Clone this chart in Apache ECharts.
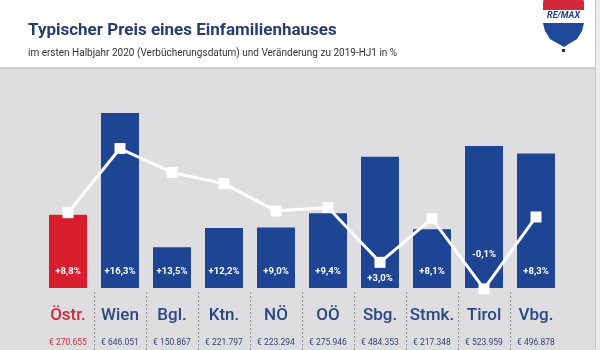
<!DOCTYPE html>
<html><head><meta charset="utf-8">
<script src="https://cdn.jsdelivr.net/npm/echarts@6/dist/echarts.min.js"></script>
<style>html,body{margin:0;padding:0;background:#dedee0}#c{width:600px;height:350px}</style>
</head><body><div id="c"></div>
<script>
var categories = ['Östr.','Wien','Bgl.','Ktn.','NÖ','OÖ','Sbg.','Stmk.','Tirol','Vbg.'];
var prices = [270655, 646051, 150867, 221797, 223294, 275946, 484353, 217348, 523959, 496878];
var priceLabels = ['€ 270.655','€ 646.051','€ 150.867','€ 221.797','€ 223.294','€ 275.946','€ 484.353','€ 217.348','€ 523.959','€ 496.878'];
var changes = [8.8, 16.3, 13.5, 12.2, 9.0, 9.4, 3.0, 8.1, -0.1, 8.3];
var changeLabels = ['+8,8%','+16,3%','+13,5%','+12,2%','+9,0%','+9,4%','+3,0%','+8,1%','-0,1%','+8,3%'];
var labelLift = [11,11,11,11,11,11,4,11,28,11];

var BLUE = '#1e4593', RED = '#d81e2c', NAVY = '#263d70';

var chart = echarts.init(document.getElementById('c'), null, {renderer:'canvas'});
var barData = prices.map(function(v,i){
  return {value:v,
    itemStyle:{color: i===0 ? RED : BLUE},
    label:{distance: labelLift[i]}};
});
chart.setOption({
  backgroundColor:'#dedee0',
  animation:false,
  title:{
    text:'Typischer Preis eines Einfamilienhauses',
    subtext:'im ersten Halbjahr 2020 (Verbücherungsdatum) und Veränderung zu 2019-HJ1 in %',
    left:23, top:17, itemGap:9,
    textStyle:{fontFamily:'Roboto',fontWeight:'bold',fontSize:17,color:NAVY},
    subtextStyle:{fontFamily:'Roboto',fontSize:10,color:'#333'}
  },
  graphic:[
    {type:'rect', z:-10, shape:{x:0,y:0,width:600,height:67}, style:{fill:'#ffffff'}},
    {type:'rect', z:-10, shape:{x:0,y:67,width:600,height:2}, style:{fill:'#cfcfd2'}},
    {type:'rect', z:-10, shape:{x:595,y:0,width:1,height:350}, style:{fill:'#c6c6c9'}},
    {type:'rect', z:-10, shape:{x:596,y:0,width:4,height:350}, style:{fill:'#ececee'}},
    {type:'rect', shape:{x:543,y:-6,width:41,height:16,r:[9,9,0,0]}, style:{fill:'#d0273a'}},
    {type:'rect', shape:{x:543,y:10,width:41,height:12}, style:{fill:'#ffffff'}},
    {type:'text', style:{text:'RE/MAX', x:563.5, y:16, align:'center', verticalAlign:'middle', font:'italic bold 9px Roboto', fill:'#1e3f8a'}},
    {type:'polygon', shape:{points:[[543,23],[584,23],[582,31],[577,39],[564,47],[550,39],[545,31]]}, style:{fill:'#1f4a9a'}},
    {type:'rect', shape:{x:562,y:49,width:3,height:3}, style:{fill:'#1f2f55'}}
  ],
  grid:[
    {left:42, right:38, top:113, bottom:62},
    {left:42, right:38, top:292, bottom:0}
  ],
  xAxis:[
    {type:'category', data:categories, gridIndex:0,
     axisLine:{show:false}, axisTick:{show:false},
     axisLabel:{interval:0, margin:14,
       formatter:function(v, i){
         var k = i===0 ? 'r' : 'b';
         return '{'+k+'n|'+v+'}\n{'+k+'p|'+priceLabels[i]+'}';
       },
       rich:{
         bn:{fontFamily:'Roboto',fontSize:17,fontWeight:500,color:'#2a4683',lineHeight:27},
         rn:{fontFamily:'Roboto',fontSize:17,fontWeight:500,color:'#cc2a3e',lineHeight:27},
         bp:{fontFamily:'Roboto',fontSize:8.5,color:'#34446e',lineHeight:27},
         rp:{fontFamily:'Roboto',fontSize:8.5,color:'#cc2a3e',lineHeight:27}
       }}},
    {type:'category', data:categories, gridIndex:1,
     axisLine:{show:false}, axisTick:{show:false}, axisLabel:{show:false},
     splitLine:{show:true, showMinLine:false, showMaxLine:false, lineStyle:{type:[2,2], color:'#8e8e93', width:1}}}
  ],
  yAxis:[
    {type:'value', min:0, max:646051, gridIndex:0, show:false, splitLine:{show:false}},
    {type:'value', min:0, max:20.45, gridIndex:0, show:false, splitLine:{show:false}},
    {type:'value', gridIndex:1, show:false, splitLine:{show:false}}
  ],
  series:[
    {type:'bar', data:barData, barWidth:38, xAxisIndex:0, yAxisIndex:0,
     label:{show:true, position:'insideBottom', color:'#fff', fontFamily:'Roboto', fontWeight:'bold', fontSize:9.5,
       formatter:function(p){return changeLabels[p.dataIndex];}}},
    {type:'line', data:changes, xAxisIndex:0, yAxisIndex:1, clip:false, z:5,
     lineStyle:{color:'#ffffff', width:3}, itemStyle:{color:'#ffffff'},
     symbol:'rect', symbolSize:11, showAllSymbol:true}
  ]
});
</script></body></html>
